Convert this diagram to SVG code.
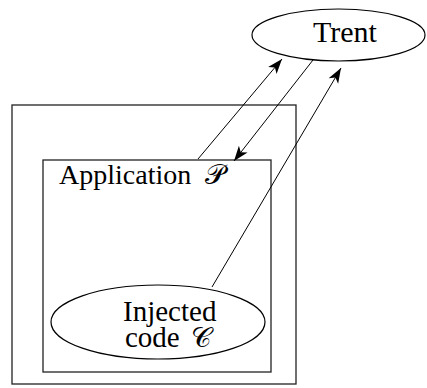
<svg xmlns="http://www.w3.org/2000/svg" width="427" height="388" viewBox="0 0 427 388">
  <style>
    .box { fill: none; stroke: #222; stroke-width: 1.3; }
    .node { fill: #fff; stroke: #000; stroke-width: 1.2; }
    .lbl { font-family: "Liberation Serif", "Times New Roman", serif; fill: #000; }
    .scr { font-family: "DejaVu Sans", "DejaVu Serif", serif; font-weight: 200; fill: #000; }
    .edge { fill: none; stroke: #000; stroke-width: 1; marker-end: url(#head); }
  </style>
  <defs>
    <marker id="head" markerUnits="userSpaceOnUse" markerWidth="20" markerHeight="14" viewBox="-17 -7 18 14" refX="0" refY="0" orient="auto">
      <path d="M0,0 L-15,-5.5 L-11,0 L-15,5.5 Z" fill="#000"/>
    </marker>
  </defs>

  <!-- host machine -->
  <g id="host">
    <rect class="box" x="12" y="105" width="284" height="279"/>
  </g>

  <!-- application P -->
  <g id="application">
    <rect class="box" x="43" y="160" width="228" height="212"/>
    <text class="lbl" x="59" y="184" font-size="28">Application</text>
    <text class="scr" x="205" y="184" font-size="28">𝒫</text>
  </g>

  <!-- injected code C -->
  <g id="injected">
    <ellipse class="node" cx="158" cy="322" rx="107" ry="37"/>
    <text class="lbl" x="123" y="321" font-size="29">Injected</text>
    <text class="lbl" x="125" y="347" font-size="29">code</text>
    <text class="scr" x="191" y="347" font-size="28">𝒞</text>
  </g>

  <!-- Trent -->
  <g id="trent">
    <ellipse class="node" cx="338.5" cy="35" rx="86.5" ry="26"/>
    <text class="lbl" x="313" y="42" font-size="30">Trent</text>
  </g>

  <!-- messages -->
  <g id="connectors">
    <line class="edge" x1="198" y1="159" x2="282" y2="59"/>
    <line class="edge" x1="313" y1="60" x2="234" y2="161"/>
    <line class="edge" x1="212" y1="287" x2="341" y2="68"/>
  </g>
</svg>
